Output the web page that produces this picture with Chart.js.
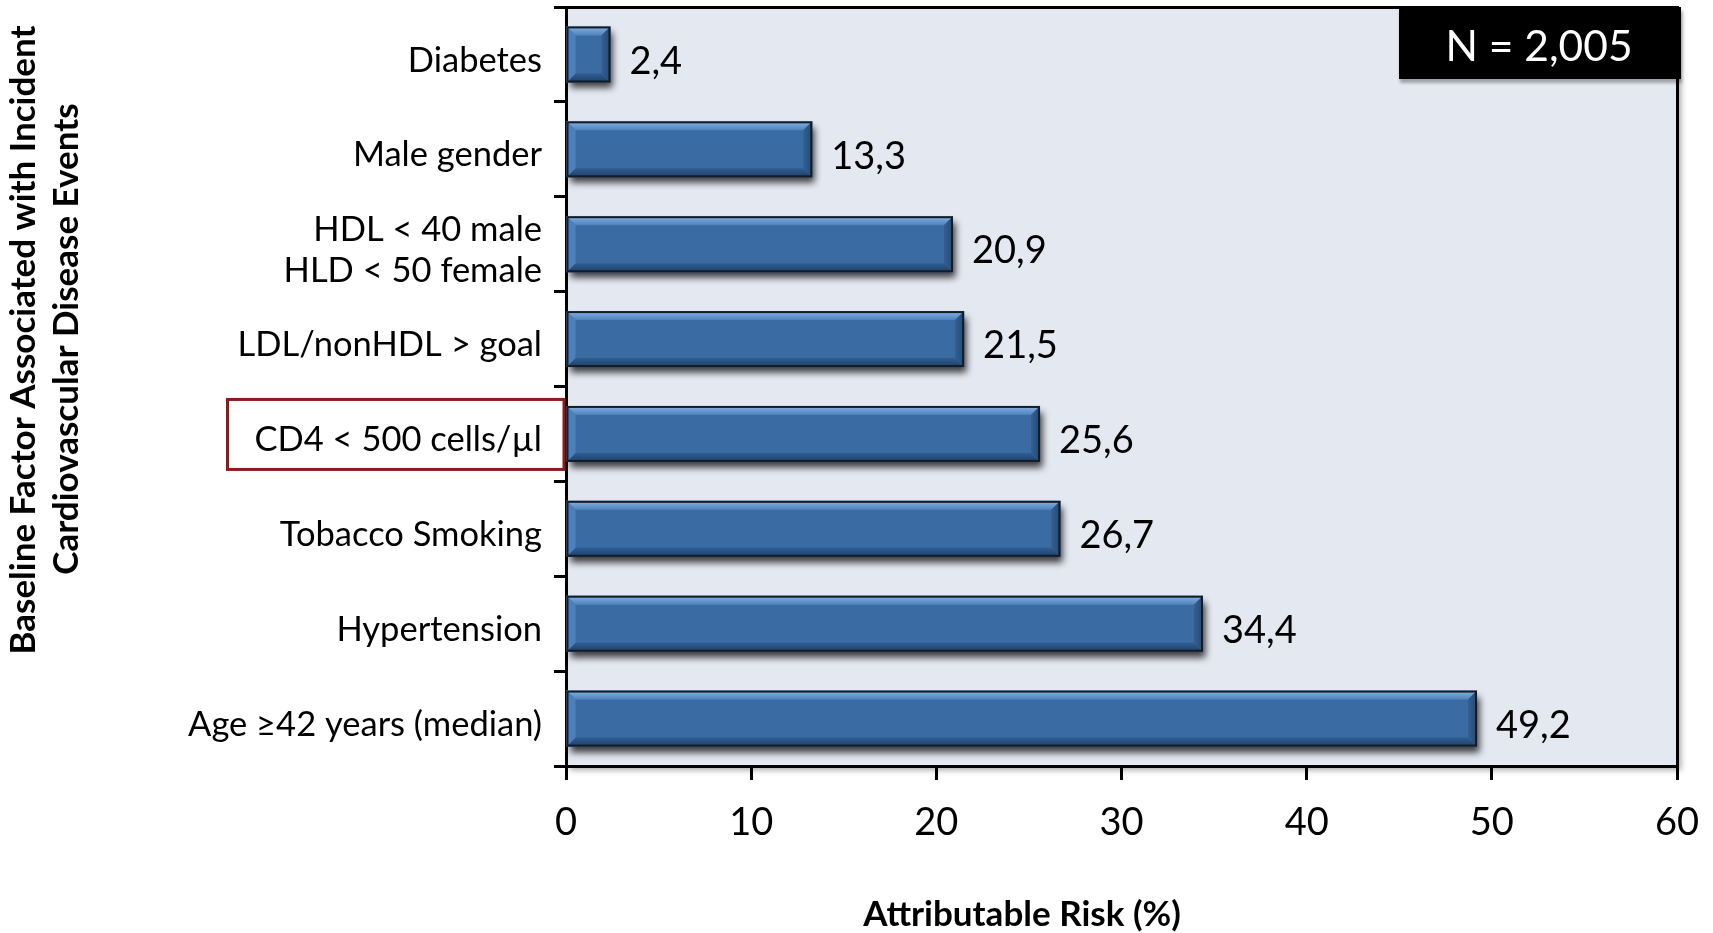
<!DOCTYPE html>
<html>
<head>
<meta charset="utf-8">
<script src="https://cdn.jsdelivr.net/npm/chart.js@4.4.1/dist/chart.umd.min.js"></script>
<style>
  html, body { margin: 0; padding: 0; background: #ffffff; overflow: hidden; }
  canvas { display: block; }
</style>
</head>
<body>
<canvas id="chart" width="1713" height="933"></canvas>
<script>
// Risk factors (top to bottom) and their attributable risk in percent
const categories = [
  'Diabetes',
  'Male gender',
  ['HDL < 40 male', 'HLD < 50 female'],
  'LDL/nonHDL > goal',
  'CD4 < 500 cells/\u00b5l',
  'Tobacco Smoking',
  'Hypertension',
  'Age \u226542 years (median)'
];
const attributableRisk = [2.4, 13.3, 20.9, 21.5, 25.6, 26.7, 34.4, 49.2];
const xTickValues = [0, 10, 20, 30, 40, 50, 60];
const highlightedIndex = 4;
const sampleSizeText = 'N = 2,005';
const xTitleText = 'Attributable Risk (%)';
const yTitleLines = ['Baseline Factor Associated with Incident', 'Cardiovascular Disease Events'];

const FONT = 'Lato, "Open Sans", "DejaVu Sans", sans-serif';
const PLOT_BG = '#E4E8F1';

const formatValue = v => v.toFixed(1).replace('.', ',');

// Plot background, bevelled bars, frame, annotations and titles
const decorPlugin = {
  id: 'decor',
  beforeDraw(chart) {
    const { ctx, chartArea: a } = chart;
    ctx.save();
    ctx.shadowColor = 'rgba(0,0,0,0.35)';
    ctx.shadowBlur = 6;
    ctx.shadowOffsetX = 4;
    ctx.shadowOffsetY = 4;
    ctx.fillStyle = PLOT_BG;
    ctx.fillRect(a.left, a.top, a.right - a.left, a.bottom - a.top);
    ctx.restore();
  },
  beforeDatasetsDraw(chart) {
    const ctx = chart.ctx;
    ctx.save();
    ctx.shadowColor = 'rgba(0,0,0,0.75)';
    ctx.shadowBlur = 7;
    ctx.shadowOffsetX = 3;
    ctx.shadowOffsetY = 6;
  },
  afterDatasetsDraw(chart) {
    const ctx = chart.ctx;
    ctx.restore();
    const meta = chart.getDatasetMeta(0);
    meta.data.forEach(bar => {
      const p = bar.getProps(['x', 'y', 'base', 'height'], true);
      const L = Math.min(p.base, p.x), R = Math.max(p.base, p.x);
      const T = p.y - p.height / 2, B = p.y + p.height / 2;
      const d = Math.min(9, (R - L) / 2, p.height / 2);
      ctx.save();
      // top bevel
      let g = ctx.createLinearGradient(0, T, 0, T + d);
      g.addColorStop(0, '#86B3E2');
      g.addColorStop(1, '#4F82BD');
      ctx.fillStyle = g;
      ctx.beginPath();
      ctx.moveTo(L, T); ctx.lineTo(R, T); ctx.lineTo(R - d, T + d); ctx.lineTo(L + d, T + d); ctx.closePath();
      ctx.fill();
      // bottom bevel
      g = ctx.createLinearGradient(0, B - d, 0, B);
      g.addColorStop(0, '#2F5D92');
      g.addColorStop(1, '#1E4068');
      ctx.fillStyle = g;
      ctx.beginPath();
      ctx.moveTo(L, B); ctx.lineTo(R, B); ctx.lineTo(R - d, B - d); ctx.lineTo(L + d, B - d); ctx.closePath();
      ctx.fill();
      // left bevel
      ctx.fillStyle = '#4D80BA';
      ctx.beginPath();
      ctx.moveTo(L, T); ctx.lineTo(L + d, T + d); ctx.lineTo(L + d, B - d); ctx.lineTo(L, B); ctx.closePath();
      ctx.fill();
      // right bevel
      g = ctx.createLinearGradient(R - d, 0, R, 0);
      g.addColorStop(0, '#345F92');
      g.addColorStop(1, '#244A75');
      ctx.fillStyle = g;
      ctx.beginPath();
      ctx.moveTo(R, T); ctx.lineTo(R - d, T + d); ctx.lineTo(R - d, B - d); ctx.lineTo(R, B); ctx.closePath();
      ctx.fill();
      // outline
      ctx.strokeStyle = '#141C28';
      ctx.lineWidth = 2;
      ctx.strokeRect(L + 1, T + 1, R - L - 2, B - T - 2);
      ctx.restore();
    });
  },
  afterDraw(chart) {
    const { ctx, chartArea: a } = chart;
    const yScale = chart.scales.y;
    ctx.save();

    // top and right frame lines
    ctx.strokeStyle = '#000';
    ctx.lineWidth = 3;
    ctx.beginPath();
    ctx.moveTo(a.left - 12, a.top + 0.5);
    ctx.lineTo(a.right + 0.5, a.top + 0.5);
    ctx.lineTo(a.right + 0.5, a.bottom + 14);
    ctx.stroke();

    // value labels
    ctx.fillStyle = '#000';
    ctx.font = '38px ' + FONT;
    ctx.textAlign = 'left';
    ctx.textBaseline = 'middle';
    chart.getDatasetMeta(0).data.forEach((bar, i) => {
      const p = bar.getProps(['x', 'y'], true);
      ctx.fillText(formatValue(attributableRisk[i]), p.x + 19, p.y + 7);
    });

    // highlighted factor box
    const yc = yScale.getPixelForValue(highlightedIndex);
    ctx.strokeStyle = '#8E1B1B';
    ctx.lineWidth = 3;
    ctx.strokeRect(227.5, yc - 34.5, a.left - 2 - 227.5, 70);

    // sample size box
    ctx.save();
    ctx.shadowColor = 'rgba(0,0,0,0.3)';
    ctx.shadowBlur = 3;
    ctx.shadowOffsetX = 1;
    ctx.shadowOffsetY = 4;
    ctx.fillStyle = '#000';
    ctx.fillRect(1399, a.top, a.right + 4 - 1399, 72);
    ctx.restore();
    ctx.fillStyle = '#fff';
    ctx.font = '42.5px ' + FONT;
    ctx.textAlign = 'center';
    ctx.textBaseline = 'middle';
    ctx.fillText(sampleSizeText, 1539, a.top + 40);

    // axis titles
    ctx.fillStyle = '#000';
    ctx.font = 'bold 35px ' + FONT;
    ctx.fillText(xTitleText, 1022, 915);
    ctx.save();
    ctx.translate(24, 340);
    ctx.rotate(-Math.PI / 2);
    ctx.fillText(yTitleLines[0], 0, 0);
    ctx.restore();
    ctx.save();
    ctx.translate(67, 339);
    ctx.rotate(-Math.PI / 2);
    ctx.fillText(yTitleLines[1], 0, 0);
    ctx.restore();

    ctx.restore();
  }
};

new Chart(document.getElementById('chart'), {
  type: 'bar',
  data: {
    labels: categories,
    datasets: [{
      data: attributableRisk,
      backgroundColor: '#3A6BA3',
      borderWidth: 0,
      barPercentage: 0.59,
      categoryPercentage: 1
    }]
  },
  options: {
    indexAxis: 'y',
    responsive: false,
    devicePixelRatio: 1,
    animation: false,
    layout: { padding: { top: 7, right: 36, left: 0, bottom: 0 } },
    plugins: {
      legend: { display: false },
      tooltip: { enabled: false },
      title: { display: false }
    },
    scales: {
      x: {
        type: 'linear',
        min: 0,
        max: 60,
        afterBuildTicks(scale) { scale.ticks = xTickValues.map(v => ({ value: v })); },
        afterFit(scale) {
          scale.height = 167;
          scale.paddingLeft = 0;
          scale.paddingRight = 0;
        },
        ticks: { font: { family: FONT, size: 38 }, color: '#000', padding: 20 },
        grid: { drawOnChartArea: false, drawTicks: true, tickLength: 14, tickColor: '#000', tickWidth: 3 },
        border: { display: true, color: '#000', width: 3 }
      },
      y: {
        type: 'category',
        afterFit(scale) {
          scale.width = 566;
          scale.paddingTop = 0;
          scale.paddingBottom = 0;
        },
        ticks: { font: { family: FONT, size: 34.5, lineHeight: 1.2 }, color: '#000', padding: 12, labelOffset: 6 },
        grid: { offset: true, drawOnChartArea: false, drawTicks: true, tickLength: 12, tickColor: '#000', tickWidth: 3 },
        border: { display: true, color: '#000', width: 3 }
      }
    }
  },
  plugins: [decorPlugin]
});
</script>
</body>
</html>
